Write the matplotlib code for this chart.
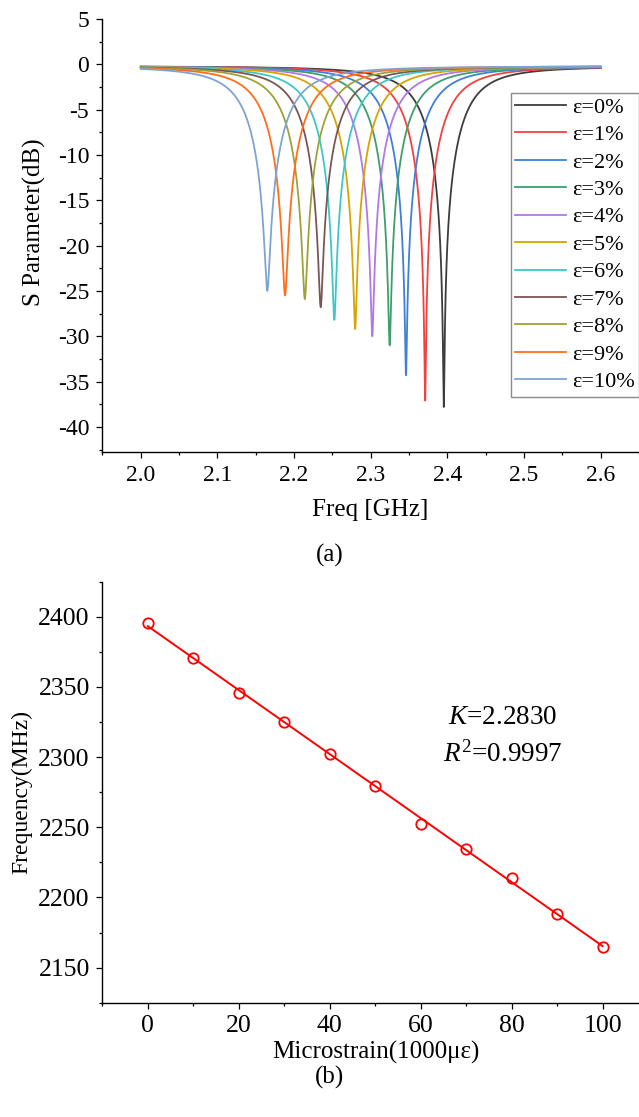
import numpy as np
import matplotlib
matplotlib.use("Agg")
import matplotlib.pyplot as plt
from matplotlib.ticker import MultipleLocator, FormatStrFormatter

plt.rcParams['font.family'] = ['Liberation Serif', 'DejaVu Serif']
plt.rcParams['mathtext.fontset'] = 'custom'
plt.rcParams['mathtext.rm'] = 'Liberation Serif'
plt.rcParams['mathtext.it'] = 'Liberation Serif:italic'
plt.rcParams['axes.unicode_minus'] = False

# strain steps and measured resonance
strain_pct = [0, 1, 2, 3, 4, 5, 6, 7, 8, 9, 10]
microstrain_k = [0, 10, 20, 30, 40, 50, 60, 70, 80, 90, 100]
resonance_mhz = [2395.3, 2371.0, 2346.0, 2324.7, 2302.0, 2279.6,
                 2252.5, 2234.7, 2214.0, 2188.2, 2165.0]
dip_db = [-37.6, -36.9, -34.1, -30.8, -29.8, -29.0,
          -28.0, -26.6, -25.7, -25.3, -24.8]
half_width_ghz = 0.045
baseline_db = -0.2

colors = ['#3d3d3d', '#f2413f', '#3f7fd9', '#3e9e6e', '#b277e8', '#d9a300',
          '#3cc8c8', '#7b5656', '#9fa13a', '#ff6e1a', '#7ea4d4']


def s11_curve(freq, f0, depth):
    # single-pole resonance, reflection floor set by the dip depth
    r0 = 10 ** (depth / 20.0)
    u = (freq - f0) / half_width_ghz
    g2 = r0 ** 2 + (1 - r0 ** 2) * u ** 2 / (1 + u ** 2)
    return baseline_db + 10 * np.log10(g2)


def style_axes(ax, tick_size):
    for side in ['top', 'right']:
        ax.spines[side].set_visible(False)
    for side in ['left', 'bottom']:
        ax.spines[side].set_linewidth(1.0)
    ax.tick_params(which='major', direction='out', length=4, width=0.9,
                   labelsize=tick_size, pad=5)
    ax.tick_params(which='minor', direction='out', length=2.5, width=0.9)


fig = plt.figure(figsize=(6.39, 11.17), dpi=100)

# (a) S-parameter sweep
ax1 = fig.add_axes([0.1592, 0.5951, 0.8408, 0.3879])
freq = np.linspace(2.0, 2.6, 6001)
for i in range(len(strain_pct)):
    ax1.plot(freq, s11_curve(freq, resonance_mhz[i] / 1000.0, dip_db[i]),
             color=colors[i], lw=1.3, label='ε=%d%%' % strain_pct[i])

ax1.set_xlim(1.949, 2.65)
ax1.set_ylim(-42.8, 5)
ax1.xaxis.set_major_locator(MultipleLocator(0.1))
ax1.xaxis.set_minor_locator(MultipleLocator(0.05))
ax1.yaxis.set_major_locator(MultipleLocator(5))
ax1.yaxis.set_minor_locator(MultipleLocator(2.5))
ax1.xaxis.set_major_formatter(FormatStrFormatter('%.1f'))
style_axes(ax1, 17)

ax1.set_xlabel('Freq [GHz]', fontsize=18, va='center')
ax1.xaxis.set_label_coords(0.499, -0.133)
ax1.set_ylabel('S Parameter(dB)', fontsize=18, va='center')
ax1.yaxis.set_label_coords(-0.125, 0.531)

leg = ax1.legend(loc='upper left', bbox_to_anchor=(0.761, 0.830),
                 borderaxespad=0, fontsize=16, labelspacing=0.31,
                 handlelength=2.3, handletextpad=0.25, borderpad=0.2,
                 fancybox=False, framealpha=1)
leg.get_frame().set_edgecolor('#8a8a8a')
leg.get_frame().set_linewidth(1.0)

fig.text(0.516, 0.503, '(a)', fontsize=18, ha='center', va='center')

# (b) resonance frequency vs strain with linear fit
ax2 = fig.add_axes([0.1601, 0.1023, 0.8399, 0.3769])
k_fit, b_fit = np.polyfit(microstrain_k, resonance_mhz, 1)
x_fit = np.array([microstrain_k[0], microstrain_k[-1]])
ax2.plot(x_fit, k_fit * x_fit + b_fit, color='#ff0000', lw=1.4)
ax2.plot(microstrain_k, resonance_mhz, 'o', mfc='none', mec='#ff0000',
         mew=1.3, ms=7.5)

ax2.set_xlim(-10, 108)
ax2.set_ylim(2125, 2425)
ax2.xaxis.set_major_locator(MultipleLocator(20))
ax2.xaxis.set_minor_locator(MultipleLocator(10))
ax2.yaxis.set_major_locator(MultipleLocator(50))
ax2.yaxis.set_minor_locator(MultipleLocator(25))
style_axes(ax2, 18.5)

ax2.set_xlabel('Microstrain(1000με)', fontsize=18, va='center')
ax2.xaxis.set_label_coords(0.51, -0.119)
ax2.set_ylabel('Frequency(MHz)', fontsize=17, va='center')
ax2.yaxis.set_label_coords(-0.150, 0.501)

ax2.text(78, 2328.6, r'$K$=2.2830', fontsize=19.5, ha='center', va='center')
ax2.text(78, 2302, r'$R^2$=0.9997', fontsize=19.5, ha='center', va='center')

fig.text(0.516, 0.035, '(b)', fontsize=18, ha='center', va='center')

fig.savefig('out.png', dpi=100)
